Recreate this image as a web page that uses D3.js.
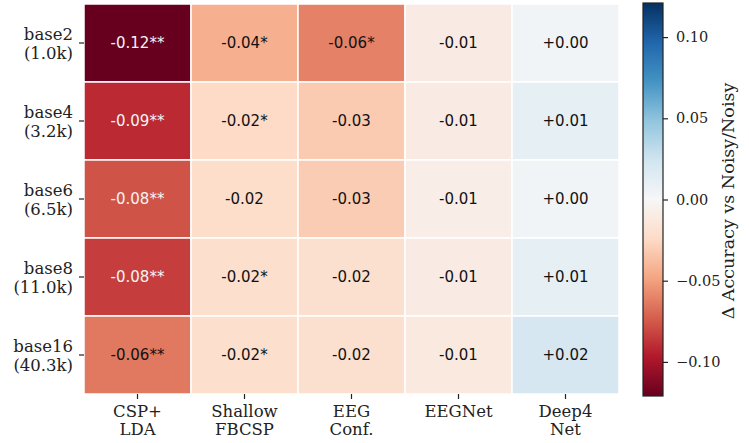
<!DOCTYPE html>
<html>
<head>
<meta charset="utf-8">
<script src="https://cdn.jsdelivr.net/npm/d3@7/dist/d3.min.js"></script>
<style>
  html, body { margin: 0; padding: 0; background: #fff; }
  svg { display: block; }
</style>
</head>
<body>
<svg id="chart" width="749" height="443"></svg>
<script>
// Models (columns) and vocabulary sizes (rows)
const models = ["CSP+\nLDA", "Shallow\nFBCSP", "EEG\nConf.", "EEGNet", "Deep4\nNet"];
const vocabs = ["base2\n(1.0k)", "base4\n(3.2k)", "base6\n(6.5k)", "base8\n(11.0k)", "base16\n(40.3k)"];

// Δ accuracy per vocab row, one entry per model
const deltaBase2  = [-0.121, -0.044, -0.061, -0.010, 0.004];
const deltaBase4  = [-0.091, -0.024, -0.032, -0.010, 0.011];
const deltaBase6  = [-0.077, -0.022, -0.031, -0.008, 0.004];
const deltaBase8  = [-0.084, -0.021, -0.020, -0.010, 0.011];
const deltaBase16 = [-0.064, -0.021, -0.020, -0.012, 0.021];

// Significance markers per vocab row
const sigBase2  = ["**", "*", "*", "", ""];
const sigBase4  = ["**", "*", "", "", ""];
const sigBase6  = ["**", "", "", "", ""];
const sigBase8  = ["**", "*", "", "", ""];
const sigBase16 = ["**", "*", "", "", ""];

const colorbarTicks = [-0.10, -0.05, 0.00, 0.05, 0.10];
const vLimit = 0.121;

const deltas = [deltaBase2, deltaBase4, deltaBase6, deltaBase8, deltaBase16];
const sigs = [sigBase2, sigBase4, sigBase6, sigBase8, sigBase16];

const cells = [];
vocabs.forEach((v, i) => models.forEach((m, j) => {
  cells.push({ vocab: v, model: m, value: deltas[i][j], sig: sigs[i][j] });
}));

// Diverging red-blue palette, linearly interpolated between the 11 anchor colours
const rdbu = ["#67001f", "#b2182b", "#d6604d", "#f4a582", "#fddbc7", "#f7f7f7",
              "#d1e5f0", "#92c5de", "#4393c3", "#2166ac", "#053061"];
const color = d3.scaleLinear()
  .domain(d3.range(11).map(k => -vLimit + k * (2 * vLimit) / 10))
  .range(rdbu)
  .interpolate(d3.interpolateRgb)
  .clamp(true);

const svg = d3.select("#chart");
const serif = "'DejaVu Serif', serif";
const sans = "'DejaVu Sans', sans-serif";

const plotL = 84, plotR = 619, plotT = 4, plotB = 394;
const x = d3.scaleBand().domain(models).range([plotL, plotR]).padding(0);
const y = d3.scaleBand().domain(vocabs).range([plotT, plotB]).padding(0);

// Heatmap cells
svg.append("g").selectAll("rect").data(cells).join("rect")
  .attr("x", d => x(d.model))
  .attr("y", d => y(d.vocab))
  .attr("width", x.bandwidth())
  .attr("height", y.bandwidth())
  .attr("fill", d => color(d.value))
  .attr("stroke", "#fff")
  .attr("stroke-width", 1.5);

// Cell annotations
const fmt = v => (v >= 0 ? "+" : "-") + Math.abs(v).toFixed(2);
svg.append("g").selectAll("text").data(cells).join("text")
  .attr("x", d => x(d.model) + x.bandwidth() / 2)
  .attr("y", d => y(d.vocab) + y.bandwidth() / 2)
  .attr("text-anchor", "middle")
  .attr("dominant-baseline", "central")
  .attr("font-family", sans)
  .attr("font-size", 15)
  .attr("fill", d => d.value < -0.07 ? "#f4f4f4" : "#111")
  .text(d => fmt(d.value) + d.sig);

// Y axis with two-line labels
const yAxis = svg.append("g")
  .attr("transform", `translate(${plotL},0)`)
  .call(d3.axisLeft(y).tickSize(5).tickPadding(6).tickSizeOuter(0));
yAxis.select(".domain").remove();
yAxis.selectAll(".tick line").attr("stroke", "#222").attr("stroke-width", 1.2);
yAxis.selectAll(".tick text")
  .attr("font-family", serif).attr("font-size", 16.5).attr("fill", "#222")
  .attr("dy", null)
  .each(function () {
    const t = d3.select(this);
    const lines = t.text().split("\n");
    const tx = t.attr("x");
    t.text(null);
    lines.forEach((ln, k) => {
      t.append("tspan").attr("x", tx)
        .attr("dy", k === 0 ? "-3px" : "18.5px").text(ln);
    });
  });

// X axis with two-line labels
const xAxis = svg.append("g")
  .attr("transform", `translate(0,${plotB})`)
  .call(d3.axisBottom(x).tickSize(5).tickPadding(6).tickSizeOuter(0));
xAxis.select(".domain").remove();
xAxis.selectAll(".tick line").attr("stroke", "#222").attr("stroke-width", 1.2);
xAxis.selectAll(".tick text")
  .attr("font-family", serif).attr("font-size", 16.5).attr("fill", "#222")
  .attr("dy", null)
  .each(function () {
    const t = d3.select(this);
    const lines = t.text().split("\n");
    t.text(null);
    lines.forEach((ln, k) => {
      t.append("tspan").attr("x", 0).attr("dy", k === 0 ? "0.72em" : "18.5px").text(ln);
    });
  });

// Colorbar
const cbX = 643, cbW = 20, cbTop = 3, cbBottom = 396;
const cbScale = d3.scaleLinear().domain([-vLimit, vLimit]).range([cbBottom, cbTop]);
const defs = svg.append("defs");
const grad = defs.append("linearGradient").attr("id", "cbGrad")
  .attr("x1", 0).attr("y1", 1).attr("x2", 0).attr("y2", 0);
d3.range(0, 1.0001, 0.02).forEach(t => {
  grad.append("stop").attr("offset", t).attr("stop-color", color(-vLimit + t * 2 * vLimit));
});
svg.append("rect")
  .attr("x", cbX).attr("y", cbTop).attr("width", cbW).attr("height", cbBottom - cbTop)
  .attr("fill", "url(#cbGrad)")
  .attr("stroke", "#222").attr("stroke-width", 1.2);

const cbAxis = svg.append("g")
  .attr("transform", `translate(${cbX + cbW},0)`)
  .call(d3.axisRight(cbScale).tickValues(colorbarTicks).tickSize(5).tickPadding(8)
    .tickFormat(v => (v < 0 ? "\u2212" : "") + Math.abs(v).toFixed(2)));
cbAxis.select(".domain").remove();
cbAxis.selectAll(".tick line").attr("stroke", "#222").attr("stroke-width", 1.2);
cbAxis.selectAll(".tick text")
  .attr("font-family", serif).attr("font-size", 14.5).attr("fill", "#222");

svg.append("text")
  .attr("transform", `translate(728,201) rotate(-90)`)
  .attr("text-anchor", "middle")
  .attr("dominant-baseline", "central")
  .attr("font-family", serif).attr("font-size", 17.5).attr("fill", "#222")
  .text("\u0394 Accuracy vs Noisy/Noisy");
</script>
</body>
</html>
